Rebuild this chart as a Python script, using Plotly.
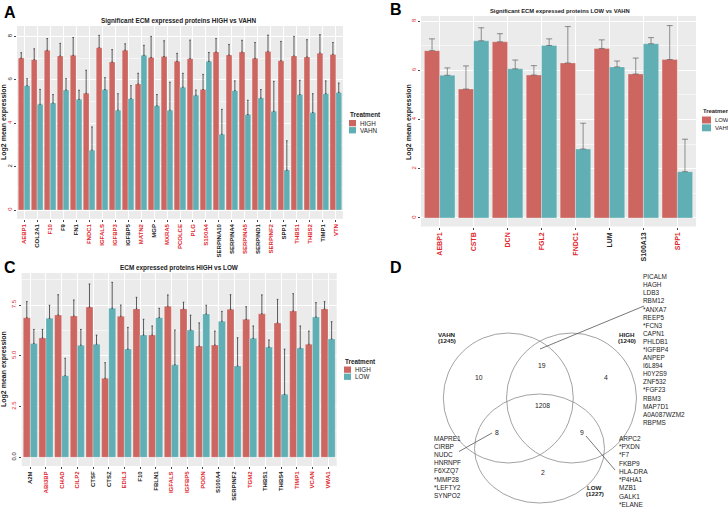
import plotly.graph_objects as go

# ---- panel A: HIGH vs VAHN ----
a_genes = ["AEBP1", "COL2A1", "F10", "F9", "FN1", "FNDC1", "IGFALS", "IGFBP3", "IGFBP5",
           "MATN2", "MGP", "MXRA5", "PCOLCE", "PLG", "S100A4", "SERPINA10", "SERPINA4",
           "SERPINA5", "SERPIND1", "SERPINF2", "SPP1", "THBS1", "THBS2", "TIMP1", "VTN"]
a_red = [1, 0, 1, 0, 0, 1, 1, 1, 0, 1, 0, 1, 1, 1, 1, 0, 0, 1, 0, 1, 0, 1, 1, 0, 1]
a_high = [7.00, 6.93, 7.36, 7.10, 7.13, 5.38, 7.48, 6.82, 7.36, 5.81, 7.03, 7.07, 6.85,
          6.97, 5.55, 7.28, 7.14, 7.28, 6.99, 7.31, 6.88, 7.10, 7.05, 7.23, 7.17]
a_high_sd = [0.25, 0.50, 0.54, 0.58, 0.82, 1.06, 0.57, 0.57, 0.30, 0.49, 0.97, 0.73, 0.37,
             0.86, 0.70, 0.62, 0.49, 0.54, 0.73, 0.75, 0.89, 0.90, 0.80, 0.85, 0.55]
a_vahn = [5.73, 4.87, 4.93, 5.53, 5.10, 2.76, 5.55, 4.60, 5.13, 7.13, 4.80, 4.60, 5.66,
          5.29, 6.85, 3.49, 5.50, 4.40, 5.16, 4.55, 1.84, 5.32, 4.49, 5.36, 5.42]
a_vahn_sd = [0.32, 0.69, 0.39, 0.52, 0.42, 1.07, 0.55, 0.76, 0.60, 0.46, 0.52, 1.29, 0.64,
             0.24, 0.41, 1.15, 0.45, 0.66, 0.39, 1.38, 1.35, 0.66, 0.87, 0.59, 0.43]

# ---- panel B: LOW vs VAHN ----
b_genes = ["AEBP1", "CSTB", "DCN", "FGL2", "FNDC1", "LUM", "S100A13", "SPP1"]
b_red = [1, 1, 1, 1, 1, 0, 0, 1]
b_low = [6.80, 5.24, 7.16, 5.81, 6.30, 6.89, 5.85, 6.44]
b_low_sd = [0.48, 0.94, 0.33, 0.38, 1.48, 0.35, 0.65, 1.38]
b_vahn = [5.80, 7.20, 6.06, 7.01, 2.80, 6.14, 7.08, 1.88]
b_vahn_sd = [0.30, 0.53, 0.36, 0.27, 1.05, 0.24, 0.25, 1.32]

# ---- panel C: HIGH vs LOW ----
c_genes = ["A2M", "ABI3BP", "CHAD", "CILP2", "CTSF", "CTSZ", "EDIL3", "F10", "FBLN1",
           "IGFALS", "IGFBP5", "PODN", "S100A4", "SERPINF2", "TGM2", "THBS1", "THBS4",
           "TIMP1", "VCAN", "VWA1"]
c_red = [0, 1, 1, 1, 0, 0, 1, 0, 0, 1, 1, 1, 0, 0, 1, 0, 0, 1, 1, 1]
c_high = [6.88, 5.88, 7.01, 6.96, 7.40, 3.89, 6.95, 7.31, 6.02, 7.44, 7.31, 5.48, 5.53,
          7.29, 6.80, 7.07, 6.62, 7.21, 5.57, 7.31]
c_high_sd = [0.79, 0.42, 1.00, 0.79, 1.14, 0.77, 0.55, 0.57, 0.45, 0.56, 0.33, 1.14, 0.69,
             0.72, 0.62, 0.93, 1.16, 0.85, 0.65, 0.36]
c_low = [5.61, 6.85, 4.02, 5.52, 5.57, 7.34, 5.33, 6.02, 6.88, 4.56, 6.27, 7.06, 6.70,
         4.50, 5.86, 5.43, 3.10, 5.38, 6.91, 5.83]
c_low_sd = [0.69, 0.64, 0.86, 0.78, 0.45, 1.28, 1.07, 0.78, 0.46, 1.71, 0.73, 0.43, 0.49,
            1.39, 0.61, 0.35, 2.23, 1.09, 0.71, 0.85]

# ---- panel D: venn ----
venn_sets = ["VAHN", "HIGH", "LOW"]
venn_totals = [1245, 1240, 1227]
venn_regions = ["VAHN", "VAHN&HIGH", "HIGH", "ALL", "VAHN&LOW", "HIGH&LOW", "LOW"]
venn_counts = [10, 19, 4, 1208, 8, 9, 2]
genes_vahn_high = ["PICALM", "HAGH", "LDB3", "RBM12", "*ANXA7", "REEP5", "*FCN3", "CAPN1",
                   "PHLDB1", "*IGFBP4", "ANPEP", "I6L894", "H0Y2S9", "ZNF532", "*FGF23",
                   "RBM3", "MAP7D1", "A0A087WZM2", "RBPMS"]
genes_vahn_low = ["MAPRE1", "CIRBP", "NUDC", "HNRNPF", "F6XZQ7", "*MMP28", "*LEFTY2", "SYNPO2"]
genes_high_low = ["ARPC2", "*PXDN", "*F7", "FKBP9", "HLA-DRA", "*P4HA1", "MZB1", "GALK1", "*ELANE"]

RED = "#CD6660"
TEAL = "#5FAFB4"
TXT_RED = "#E0262B"
FONT = "Liberation Sans, Arial, sans-serif"
W, H = 728, 507


def colored(labels, flags, bold=True):
    out = []
    for lab, f in zip(labels, flags):
        t = f"<b>{lab}</b>" if bold else str(lab)
        out.append(f"<span style='color:{TXT_RED if f else '#222'}'>{t}</span>")
    return out


fig = go.Figure()


def add_pair(xa, ya, cats, v1, s1, v2, s2, errcol, capw):
    for vals, sd, col in [(v1, s1, RED), (v2, s2, TEAL)]:
        fig.add_trace(go.Bar(
            x=cats, y=vals, xaxis=xa, yaxis=ya, showlegend=False,
            marker=dict(color=col, line=dict(color="rgba(255,255,255,0.45)", width=0.6)),
            error_y=dict(type="data", symmetric=False, array=sd, arrayminus=[0] * len(sd),
                         color=errcol, thickness=0.9, width=capw),
        ))


add_pair("x", "y", a_genes, a_high, a_high_sd, a_vahn, a_vahn_sd, "rgba(35,35,35,0.8)", 0.8)
add_pair("x2", "y2", b_genes, b_low, b_low_sd, b_vahn, b_vahn_sd, "rgba(60,60,60,0.6)", 3)
add_pair("x3", "y3", c_genes, c_high, c_high_sd, c_low, c_low_sd, "rgba(35,35,35,0.8)", 0.8)
fig.add_trace(go.Scatter(x=[], y=[], xaxis="x4", yaxis="y4", showlegend=False, hoverinfo="skip"))


def px_x(a, b):
    return [a / W, b / W]


def px_y(top, bot):
    return [1 - bot / H, 1 - top / H]


def xaxis(dom, anchor, cats, flags, size):
    return dict(domain=dom, anchor=anchor, type="category",
                range=[-0.55, len(cats) - 0.45],
                tickmode="array", tickvals=cats, ticktext=colored(cats, flags),
                tickangle=-90, tickfont=dict(size=size, family=FONT),
                showgrid=True, gridcolor="white", gridwidth=0.8,
                ticks="outside", ticklen=2, tickcolor="#444", zeroline=False, showline=False)


def yaxis(dom, anchor, rng, tvals, labels, flags, minor, size):
    return dict(domain=dom, anchor=anchor, range=rng,
                tickmode="array", tickvals=tvals,
                ticktext=colored(labels, flags, bold=False),
                tickangle=-90, tickfont=dict(size=size, family=FONT),
                showgrid=True, gridcolor="white", gridwidth=0.8,
                minor=dict(dtick=minor, showgrid=True, gridcolor="rgba(255,255,255,0.55)",
                           gridwidth=0.4),
                ticks="outside", ticklen=2, tickcolor="#444", zeroline=False, showline=False)


# y tick labels take the recycled label colours, as in the source
a_yt = [0, 2, 4, 6, 8]
b_yt = [0, 2, 4, 6, 8]
c_yt = [0, 2.5, 5, 7.5]
a_ycol = [a_red[i % len(a_red)] for i in range(len(a_yt))]
b_ycol = [b_red[i % len(b_red)] for i in range(len(b_yt))]
c_ycol = [c_red[i % len(c_red)] for i in range(len(c_yt))]

fig.update_layout(
    width=W, height=H, margin=dict(l=0, r=0, t=0, b=0),
    paper_bgcolor="white", plot_bgcolor="rgba(0,0,0,0)",
    barmode="group", bargap=0.1, bargroupgap=0.0,
    font=dict(family=FONT, color="#222"),
    xaxis=xaxis(px_x(17, 343), "y", a_genes, a_red, 6),
    yaxis=yaxis(px_y(26, 218.7), "x", [-0.4, 8.48], a_yt, [str(v) for v in a_yt], a_ycol, 1, 6),
    xaxis2=xaxis(px_x(421, 696), "y2", b_genes, b_red, 7),
    yaxis2=yaxis(px_y(16, 226.5), "x2", [-0.35, 8.21], b_yt, [str(v) for v in b_yt], b_ycol, 1, 6),
    xaxis3=xaxis(px_x(21.7, 336.7), "y3", c_genes, c_red, 6),
    yaxis3=yaxis(px_y(273, 466), "x3", [-0.43, 9.08], c_yt, [f"{v:.1f}" for v in c_yt], c_ycol,
                 1.25, 6),
    xaxis4=dict(domain=[0, 1], anchor="y4", range=[0, W], visible=False, fixedrange=True),
    yaxis4=dict(domain=[0, 1], anchor="x4", range=[H, 0], visible=False, fixedrange=True),
)

shapes = []
for s in ["", "2", "3"]:
    shapes.append(dict(type="rect", xref=f"x{s} domain", yref=f"y{s} domain",
                       x0=0, x1=1, y0=0, y1=1, fillcolor="#EBEBEB",
                       line=dict(width=0), layer="below"))

ann = []


def text(x, y, t, size, bold=False, angle=0, xanchor="center", color="#222"):
    ann.append(dict(x=x, y=y, xref="x4", yref="y4", text=f"<b>{t}</b>" if bold else t,
                    showarrow=False, font=dict(size=size, family=FONT, color=color),
                    textangle=angle, xanchor=xanchor, yanchor="middle", borderpad=0))


def lines(x, y_first, step, items, size, bold=False, xanchor="left"):
    for i, it in enumerate(items):
        text(x, y_first + i * step, it, size, bold=bold, xanchor=xanchor)


# panel letters and titles
for lab, x, y in [("A", 10.3, 12), ("B", 396, 9.5), ("C", 9.7, 267), ("D", 395.5, 267.7)]:
    text(x, y, lab, 16, bold=True, color="black")
text(178, 20.5, "Significant ECM expressed proteins HIGH vs VAHN", 6.4, bold=True)
text(560, 10.5, "Significant ECM expressed proteins LOW vs VAHN", 5.8, bold=True)
text(179, 268, "ECM expressed proteins HIGH vs LOW", 6.4, bold=True)
for x, y in [(4, 122), (409, 122), (4, 369)]:
    text(x, y, "Log2 mean expression", 7, bold=True, angle=-90)


# manual legends
def legend(x, y, names, sw, sh, size):
    text(x, y, "Treatment", size, bold=True, xanchor="left")
    for i, (nm, col) in enumerate(zip(names, [RED, TEAL])):
        y0 = y + 5.5 + i * (sh + 0.8)
        shapes.append(dict(type="rect", xref="x4", yref="y4", x0=x, x1=x + sw,
                           y0=y0, y1=y0 + sh, fillcolor=col, line=dict(width=0)))
        text(x + sw + 3, y0 + sh / 2, nm, size, xanchor="left")


legend(349, 114.5, ["HIGH", "VAHN"], 7, 6.3, 6.3)
legend(702, 111, ["LOW", "VAHN"], 9, 7, 5.9)
legend(344, 361, ["HIGH", "LOW"], 7, 6.3, 6.3)

# venn diagram
circles = {"VAHN": (443.3, 333, 573.3, 463), "HIGH": (506.5, 333, 636.5, 463),
           "LOW": (474.5, 394, 604.5, 503)}
for nm in venn_sets:
    x0, y0, x1, y1 = circles[nm]
    shapes.append(dict(type="circle", xref="x4", yref="y4", x0=x0, y0=y0, x1=x1, y1=y1,
                       line=dict(color="#8a8a8a", width=0.8)))
set_pos = {"VAHN": (447, 334), "HIGH": (626.5, 334.3), "LOW": (594.5, 487)}
for nm, tot in zip(venn_sets, venn_totals):
    lines(set_pos[nm][0], set_pos[nm][1], 6, [nm, f"({tot})"], 6.2, bold=True,
          xanchor="center")
reg_pos = {"VAHN": (478.5, 377.5), "VAHN&HIGH": (541.5, 365), "HIGH": (606, 377.5),
           "ALL": (542.5, 405), "VAHN&LOW": (496.5, 432.5), "HIGH&LOW": (581.5, 432.5),
           "LOW": (542.5, 472.5)}
for r, n in zip(venn_regions, venn_counts):
    text(reg_pos[r][0], reg_pos[r][1], str(n), 6.8)

lines(642.3, 276.7, 8.09, genes_vahn_high, 6.4)
lines(432.7, 438.3, 8.2, genes_vahn_low, 6.5)
lines(618.3, 438.3, 8.25, genes_high_low, 6.5)
for x0, y0, x1, y1 in [(540, 349, 644, 306), (492, 433, 459, 451.5), (586, 436, 615, 470)]:
    shapes.append(dict(type="line", xref="x4", yref="y4", x0=x0, y0=y0, x1=x1, y1=y1,
                       line=dict(color="#555", width=0.8)))

fig.update_layout(shapes=shapes, annotations=ann)
# the page's default body margin would shift the figure by 8px
fig.write_html("out.html", config={"displayModeBar": False},
               post_script="document.body.style.margin='0';")
